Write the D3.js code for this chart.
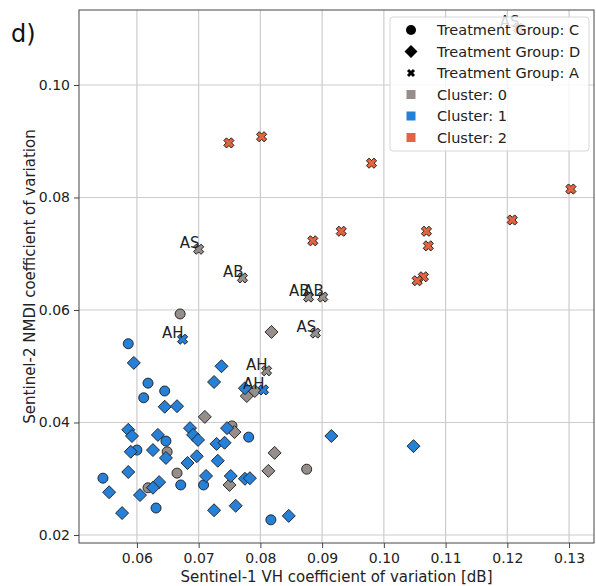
<!DOCTYPE html>
<html>
<head>
<meta charset="utf-8">
<script src="https://cdn.jsdelivr.net/npm/d3@7"></script>
<style>
  body { margin: 0; background: #fff; }
  svg { font-family: "DejaVu Sans", sans-serif; }
</style>
</head>
<body>
<div id="chart"></div>
<script>
// Sentinel-1 VH CV vs Sentinel-2 NDMI CV, one entry per field
var vhCv = [
  0.0749, 0.0802, 0.0980, 0.0885, 0.0931, 0.1069, 0.1072, 0.1064, 0.1054, 0.1208, 0.1303, 0.1218,
  0.0700, 0.0771, 0.0878, 0.0901, 0.0889, 0.0810,
  0.0674, 0.0805,
  0.0670, 0.0754, 0.0649, 0.0665, 0.0618, 0.0875,
  0.0818, 0.0710, 0.0758, 0.0778, 0.0791, 0.0823, 0.0813, 0.0750,
  0.0586, 0.0618, 0.0645, 0.0611, 0.0647, 0.0781, 0.0600, 0.0545, 0.0671, 0.0631, 0.0708, 0.0817,
  0.0595, 0.0645, 0.0665, 0.0586, 0.0592, 0.0634, 0.0686, 0.0691, 0.0699, 0.0737, 0.0725, 0.0775,
  0.0729, 0.0742, 0.0746, 0.0682, 0.0697, 0.0731, 0.0712, 0.0752, 0.0775, 0.0783, 0.0725, 0.0760,
  0.0846, 0.0915, 0.1048, 0.0586, 0.0590, 0.0626, 0.0647, 0.0555, 0.0605, 0.0636, 0.0626, 0.0576
];
var ndmiCv = [
  0.0897, 0.0908, 0.0861, 0.0723, 0.0740, 0.0740, 0.0714, 0.0659, 0.0652, 0.0760, 0.0815, 0.1101,
  0.0708, 0.0657, 0.0623, 0.0623, 0.0559, 0.0492,
  0.0548, 0.0458,
  0.0593, 0.0394, 0.0348, 0.0310, 0.0284, 0.0317,
  0.0561, 0.0410, 0.0383, 0.0447, 0.0456, 0.0346, 0.0314, 0.0289,
  0.0540, 0.0470, 0.0456, 0.0444, 0.0367, 0.0374, 0.0351, 0.0301, 0.0289, 0.0248, 0.0289, 0.0227,
  0.0506, 0.0428, 0.0429, 0.0387, 0.0376, 0.0378, 0.0390, 0.0378, 0.0369, 0.0500, 0.0472, 0.0461,
  0.0362, 0.0364, 0.0390, 0.0328, 0.0340, 0.0332, 0.0305, 0.0305, 0.0300, 0.0301, 0.0244, 0.0252,
  0.0234, 0.0376, 0.0358, 0.0312, 0.0348, 0.0351, 0.0337, 0.0276, 0.0271, 0.0294, 0.0284, 0.0239
];
var treatment = [
  "A","A","A","A","A","A","A","A","A","A","A","A",
  "A","A","A","A","A","A",
  "A","A",
  "C","C","C","C","C","C",
  "D","D","D","D","D","D","D","D",
  "C","C","C","C","C","C","C","C","C","C","C","C",
  "D","D","D","D","D","D","D","D","D","D","D","D",
  "D","D","D","D","D","D","D","D","D","D","D","D",
  "D","D","D","D","D","D","D","D","D","D","D","D"
];
var cluster = [
  2,2,2,2,2,2,2,2,2,2,2,2,
  0,0,0,0,0,0,
  1,1,
  0,0,0,0,0,0,
  0,0,0,0,0,0,0,0,
  1,1,1,1,1,1,1,1,1,1,1,1,
  1,1,1,1,1,1,1,1,1,1,1,1,
  1,1,1,1,1,1,1,1,1,1,1,1,
  1,1,1,1,1,1,1,1,1,1,1,1
];
var tag = {11: "AS", 12: "AS", 13: "AB", 14: "AB", 15: "AB", 16: "AS", 17: "AH", 18: "AH", 19: "AH"};

var xTicks = [0.06, 0.07, 0.08, 0.09, 0.10, 0.11, 0.12, 0.13];
var yTicks = [0.02, 0.04, 0.06, 0.08, 0.10];
var groupOrder = ["C", "D", "A"];
var clusterColors = ["#968e8b", "#2780d8", "#e4643f"];

var W = 596, H = 586;
var m = {left: 79, top: 10, right: 594, bottom: 543};

var svg = d3.select("#chart").append("svg")
  .attr("width", W).attr("height", H);

var x = d3.scaleLinear().domain([0.05062, 0.13404]).range([m.left, m.right]);
var y = d3.scaleLinear().domain([0.01858, 0.11333]).range([m.bottom, m.top]);

// grid
svg.append("g").selectAll("line").data(xTicks).join("line")
  .attr("x1", d => x(d)).attr("x2", d => x(d))
  .attr("y1", m.top).attr("y2", m.bottom)
  .attr("stroke", "#cccccc").attr("stroke-width", 1.2);
svg.append("g").selectAll("line").data(yTicks).join("line")
  .attr("y1", d => y(d)).attr("y2", d => y(d))
  .attr("x1", m.left).attr("x2", m.right)
  .attr("stroke", "#cccccc").attr("stroke-width", 1.2);

// axes
var xAxis = svg.append("g").attr("transform", "translate(0," + m.bottom + ")")
  .call(d3.axisBottom(x).tickValues(xTicks).tickFormat(d3.format(".2f")).tickSizeOuter(0).tickSize(5).tickPadding(5));
var yAxis = svg.append("g").attr("transform", "translate(" + m.left + ",0)")
  .call(d3.axisLeft(y).tickValues(yTicks).tickFormat(d3.format(".2f")).tickSizeOuter(0).tickSize(5).tickPadding(4));
[xAxis, yAxis].forEach(function(a) {
  a.selectAll("text").attr("font-size", 14).attr("fill", "#222").attr("font-family", "DejaVu Sans");
  a.selectAll("line").attr("stroke", "#444");
  a.select(".domain").remove();
});

svg.append("rect")
  .attr("x", m.left).attr("y", m.top)
  .attr("width", m.right - m.left).attr("height", m.bottom - m.top)
  .attr("fill", "none").attr("stroke", "#444").attr("stroke-width", 1);

// markers
var crossPath = function(s, w) {
  var p = [[-w,-s],[w,-s],[w,-w],[s,-w],[s,w],[w,w],[w,s],[-w,s],[-w,w],[-s,w],[-s,-w],[-w,-w]];
  return "M" + p.map(q => q.join(",")).join("L") + "Z";
};
var markerPath = {
  C: "M-5,0A5,5 0 1,0 5,0A5,5 0 1,0 -5,0Z",
  D: "M0,-6.5L6.5,0L0,6.5L-6.5,0Z",
  A: crossPath(5.3, 1.9)
};
var markerRot = {C: 0, D: 0, A: 45};

var idx = d3.range(vhCv.length);
var plot = svg.append("g");
groupOrder.forEach(function(g) {
  plot.selectAll(null).data(idx.filter(i => treatment[i] === g)).join("path")
    .attr("d", markerPath[g])
    .attr("transform", i => "translate(" + x(vhCv[i]) + "," + y(ndmiCv[i]) + ") rotate(" + markerRot[g] + ")")
    .attr("fill", i => clusterColors[cluster[i]])
    .attr("stroke", "#1a1a1a").attr("stroke-width", 0.9);
});

// field tags
plot.selectAll("text.tag").data(Object.keys(tag).map(Number)).join("text")
  .attr("class", "tag")
  .attr("x", i => x(vhCv[i]) + 1)
  .attr("y", i => y(ndmiCv[i]) - 1)
  .attr("text-anchor", "end")
  .attr("font-size", 15).attr("fill", "#222")
  .text(i => tag[i]);

// axis titles
svg.append("text").attr("x", (m.left + m.right) / 2).attr("y", 582)
  .attr("text-anchor", "middle").attr("font-size", 15).attr("fill", "#222")
  .text("Sentinel-1 VH coefficient of variation [dB]");
svg.append("text")
  .attr("transform", "translate(35," + (m.top + m.bottom) / 2 + ") rotate(-90)")
  .attr("text-anchor", "middle").attr("font-size", 15).attr("fill", "#222")
  .text("Sentinel-2 NMDI coefficient of variation");

svg.append("text").attr("x", 11).attr("y", 42)
  .attr("font-size", 24).attr("fill", "#111").text("d)");

// legend
var lg = svg.append("g").attr("transform", "translate(390,17)");
lg.append("rect").attr("width", 199).attr("height", 134).attr("rx", 3)
  .attr("fill", "#fff").attr("fill-opacity", 0.82)
  .attr("stroke", "#d8d8d8").attr("stroke-width", 1);
var legendItems = [
  {label: "Treatment Group: C", shape: "C"},
  {label: "Treatment Group: D", shape: "D"},
  {label: "Treatment Group: A", shape: "A"},
  {label: "Cluster: 0", color: clusterColors[0]},
  {label: "Cluster: 1", color: clusterColors[1]},
  {label: "Cluster: 2", color: clusterColors[2]}
];
var row = lg.selectAll("g.item").data(legendItems).join("g")
  .attr("class", "item")
  .attr("transform", (d, i) => "translate(0," + (13 + i * 21.5) + ")");
row.filter(d => d.shape).append("path")
  .attr("d", d => d.shape === "A" ? crossPath(4.2, 1.5) : markerPath[d.shape])
  .attr("transform", d => "translate(21,0) rotate(" + markerRot[d.shape] + ")")
  .attr("fill", "#000");
row.filter(d => d.color).append("rect")
  .attr("x", 16.5).attr("y", -4.5).attr("width", 9).attr("height", 9)
  .attr("fill", d => d.color);
row.append("text").attr("x", 47).attr("y", 5)
  .attr("font-size", 14.5).attr("fill", "#222")
  .text(d => d.label);
</script>
</body>
</html>
